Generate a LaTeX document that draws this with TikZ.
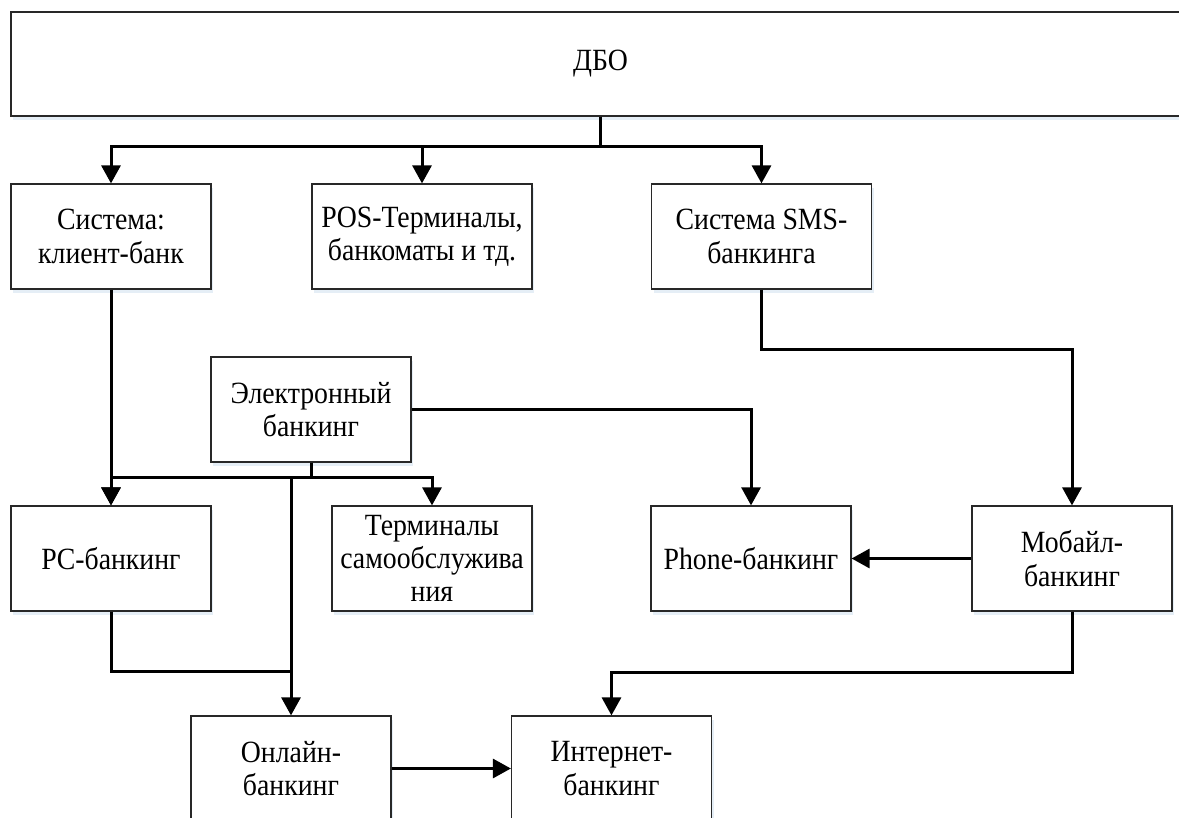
\documentclass[tikz,border=0pt]{standalone}
\usepackage{fontspec}
\setmainfont{Liberation Serif}[FakeStretch=0.9]
\usetikzlibrary{arrows.meta,shadows}
\definecolor{shade}{RGB}{212,226,240}
\definecolor{frame}{RGB}{40,40,40}
\tikzset{
  box/.style={draw=frame, line width=1.2bp, fill=white, inner sep=0pt,
    minimum width=200bp, minimum height=105bp, align=center,
    font=\fontsize{31}{33.5}\selectfont,
    drop shadow={shadow xshift=2bp, shadow yshift=-4bp, fill=shade, opacity=0.6}},
  wide/.style={minimum width=220bp},
  link/.style={draw=black, line width=3bp, line join=miter},
  arr/.style={link, -{Triangle[width=19bp,length=18bp]}}
}
\begin{document}
\begin{tikzpicture}[x=1bp, y=-1bp]
\useasboundingbox (0,0) rectangle (1179,818);

% top level
\node[box, minimum width=1179bp, minimum height=104bp] (dbo) at (600.5,64) {ДБО};

% first row
\node[box] (sys) at (111,236.5) {Система:\\клиент-банк};
\node[box, wide] (pos) at (422,236.5) {POS-Терминалы,\\банкоматы и тд.};
\node[box, wide] (sms) at (761.5,236.5) {Система SMS-\\банкинга};

% electronic banking hub
\node[box] (el) at (311,409.5) {Электронный\\банкинг};

% second row
\node[box] (pc) at (111,558.5) {PC-банкинг};
\node[box] (term) at (432,558.5) {Терминалы\\самообслужива\\ния};
\node[box] (phone) at (751,558.5) {Phone-банкинг};
\node[box] (mob) at (1072,558.5) {Мобайл-\\банкинг};

% bottom row
\node[box] (onl) at (291,768.5) {Онлайн-\\банкинг};
\node[box] (int) at (611.5,768.5) {Интернет-\\банкинг};

% junction where PC-банкинг meets the line into Онлайн-банкинг
\coordinate (pcjoin) at (291,671);

% connectors
\draw[arr] (dbo.south) -- ++(0,30) -| (sys.north);
\draw[arr] (dbo.south) -- ++(0,30) -| (pos.north);
\draw[arr] (dbo.south) -- ++(0,30) -| (sms.north);

\draw[arr] (sys.south) -- (pc.north);

\draw[arr] (el.south) -- ++(0,15) -| (pc.north);
\draw[arr] (el.south) -- ++(0,15) -| (term.north);
\draw[arr] (el.south) -- ++(0,15) -| (onl.north);
\draw[arr] (el.east) -| (phone.north);

\draw[arr] (sms.south) -- ++(0,60) -| (mob.north);
\draw[arr] (mob.west) -- (phone.east);

\draw[link] (pc.south) |- (pcjoin);
\draw[arr] (mob.south) -- ++(0,61) -| (int.north);
\draw[arr] (onl.east) -- (int.west);
\end{tikzpicture}
\end{document}
